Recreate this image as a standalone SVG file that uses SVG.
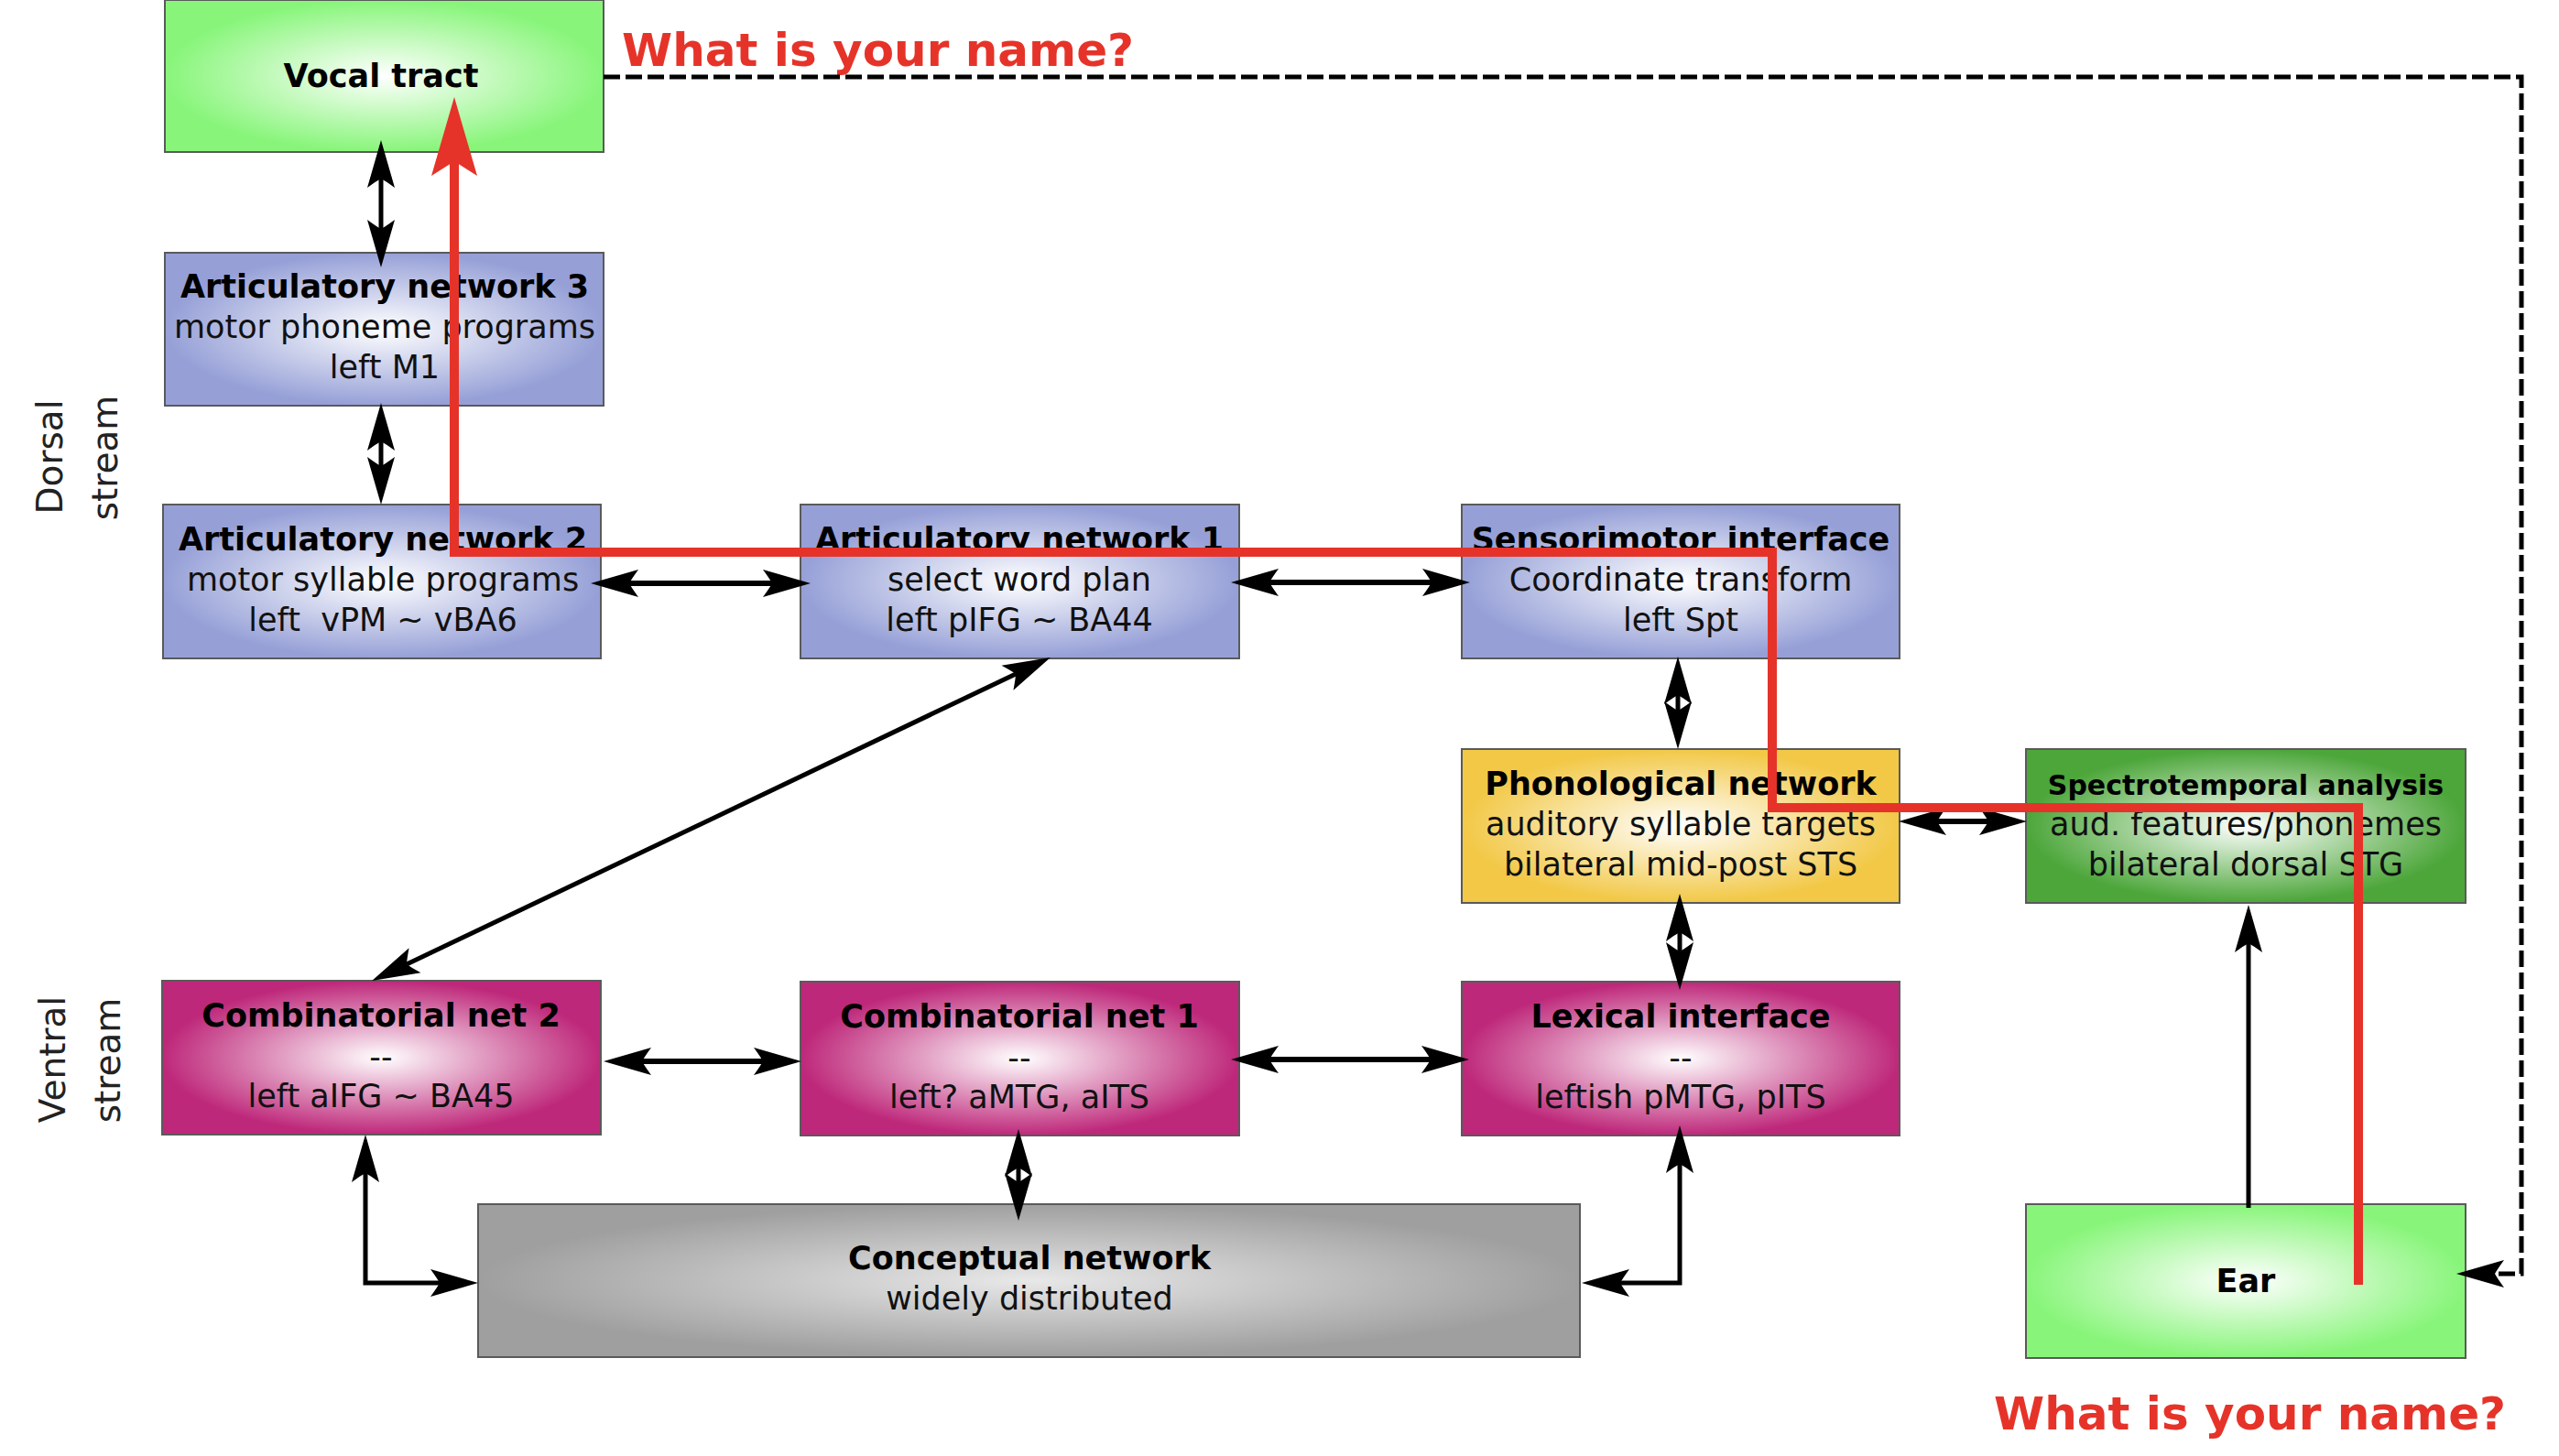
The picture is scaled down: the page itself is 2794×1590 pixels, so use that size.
<svg xmlns="http://www.w3.org/2000/svg" width="2794" height="1590" viewBox="0 0 2794 1590">
<style>
.box{stroke:#5a5a5a;stroke-width:2}
.t{font-family:"DejaVu Sans",sans-serif;font-size:35px;text-anchor:middle;fill:#111}
.b{font-weight:bold;fill:#000}
.side{font-family:"DejaVu Sans",sans-serif;font-size:39px;text-anchor:middle;fill:#222}
.red{font-family:"DejaVu Sans",sans-serif;font-size:50px;font-weight:bold;fill:#e63329}
.c{fill:none;stroke:#000;stroke-width:5}
.h{stroke-width:6}
</style>
<defs>
<radialGradient id="gGreen"><stop offset="0" stop-color="#ffffff"/><stop offset="1" stop-color="#88f57a"/></radialGradient>
<radialGradient id="gBlue"><stop offset="0" stop-color="#ffffff"/><stop offset="1" stop-color="#96a0d7"/></radialGradient>
<radialGradient id="gYellow"><stop offset="0" stop-color="#ffffff"/><stop offset="1" stop-color="#f2c846"/></radialGradient>
<radialGradient id="gDark"><stop offset="0" stop-color="#ffffff"/><stop offset="1" stop-color="#4ca63a"/></radialGradient>
<radialGradient id="gMag"><stop offset="0" stop-color="#ffffff"/><stop offset="1" stop-color="#be287a"/></radialGradient>
<radialGradient id="gGray"><stop offset="0" stop-color="#e8e8e8"/><stop offset="1" stop-color="#a09fa0"/></radialGradient>
<marker id="ah" viewBox="-54 -17 56 34" markerWidth="56" markerHeight="34" refX="-42" refY="0" orient="auto-start-reverse" markerUnits="userSpaceOnUse"><path d="M0,0 L-52,-15 Q-44,-4 -42,0 Q-44,4 -52,15 Z" fill="#000"/></marker>
<marker id="rh" viewBox="-88 -27 90 54" markerWidth="90" markerHeight="54" refX="-70" refY="0" orient="auto" markerUnits="userSpaceOnUse"><path d="M0,0 L-86,-25 Q-74,-6 -70,0 Q-74,6 -86,25 Z" fill="#e63329"/></marker>
</defs>

<g id="vocal-tract"><rect class="box" x="180" y="0" width="479" height="166" fill="url(#gGreen)"/><text class="t b" x="416" y="95">Vocal tract</text></g>
<g id="art3"><rect class="box" x="180" y="276" width="479" height="167" fill="url(#gBlue)"/><text class="t b" x="420" y="325">Articulatory network 3</text><text class="t" x="420" y="369">motor phoneme programs</text><text class="t" x="420" y="413">left M1</text></g>
<g id="art2"><rect class="box" x="178" y="551" width="478" height="168" fill="url(#gBlue)"/><text class="t b" x="418" y="601">Articulatory network 2</text><text class="t" x="418" y="645">motor syllable programs</text><text class="t" x="418" y="689" xml:space="preserve">left  vPM ~ vBA6</text></g>
<g id="art1"><rect class="box" x="874" y="551" width="479" height="168" fill="url(#gBlue)"/><text class="t b" x="1113" y="601">Articulatory network 1</text><text class="t" x="1113" y="645">select word plan</text><text class="t" x="1113" y="689">left pIFG ~ BA44</text></g>
<g id="sensorimotor"><rect class="box" x="1596" y="551" width="478" height="168" fill="url(#gBlue)"/><text class="t b" x="1835" y="601">Sensorimotor interface</text><text class="t" x="1835" y="645">Coordinate transform</text><text class="t" x="1835" y="689">left Spt</text></g>
<g id="phonological"><rect class="box" x="1596" y="818" width="478" height="168" fill="url(#gYellow)"/><text class="t b" x="1835" y="868">Phonological network</text><text class="t" x="1835" y="912">auditory syllable targets</text><text class="t" x="1835" y="956">bilateral mid-post STS</text></g>
<g id="spectrotemporal"><rect class="box" x="2212" y="818" width="480" height="168" fill="url(#gDark)"/><text class="t b" x="2452" y="868" style="font-size:30px">Spectrotemporal analysis</text><text class="t" x="2452" y="912">aud. features/phonemes</text><text class="t" x="2452" y="956">bilateral dorsal STG</text></g>
<g id="comb2"><rect class="box" x="177" y="1071" width="479" height="168" fill="url(#gMag)"/><text class="t b" x="416" y="1121">Combinatorial net 2</text><text class="t" x="416" y="1166">--</text><text class="t" x="416" y="1209">left aIFG ~ BA45</text></g>
<g id="comb1"><rect class="box" x="874" y="1072" width="479" height="168" fill="url(#gMag)"/><text class="t b" x="1113" y="1122">Combinatorial net 1</text><text class="t" x="1113" y="1167">--</text><text class="t" x="1113" y="1210">left? aMTG, aITS</text></g>
<g id="lexical"><rect class="box" x="1596" y="1072" width="478" height="168" fill="url(#gMag)"/><text class="t b" x="1835" y="1122">Lexical interface</text><text class="t" x="1835" y="1167">--</text><text class="t" x="1835" y="1210">leftish pMTG, pITS</text></g>
<g id="conceptual"><rect class="box" x="522" y="1315" width="1203" height="167" fill="url(#gGray)"/><text class="t b" x="1124" y="1386">Conceptual network</text><text class="t" x="1124" y="1430">widely distributed</text></g>
<g id="ear"><rect class="box" x="2212" y="1315" width="480" height="168" fill="url(#gGreen)"/><text class="t b" x="2452" y="1411">Ear</text></g>

<g id="labels">
<text class="side" x="68" y="499" transform="rotate(-90 68 499)">Dorsal</text>
<text class="side" x="128" y="500" transform="rotate(-90 128 500)">stream</text>
<text class="side" x="71" y="1157" transform="rotate(-90 71 1157)">Ventral</text>
<text class="side" x="131" y="1158" transform="rotate(-90 131 1158)">stream</text>
<text class="red" x="679" y="72">What is your name?</text>
<text class="red" x="2177" y="1561">What is your name?</text>
</g>

<g id="connectors">
<path class="c" d="M416,195 V250" marker-start="url(#ah)" marker-end="url(#ah)"/>
<path class="c" d="M416,482 V509" marker-start="url(#ah)" marker-end="url(#ah)"/>
<path class="c h" d="M687,637 H843" marker-start="url(#ah)" marker-end="url(#ah)"/>
<path class="c h" d="M1386,636 H1563" marker-start="url(#ah)" marker-end="url(#ah)"/>
<path class="c" d="M1832,759 V776" marker-start="url(#ah)" marker-end="url(#ah)"/>
<path class="c h" d="M2115,897 H2171" marker-start="url(#ah)" marker-end="url(#ah)"/>
<path class="c" d="M1834,1018 V1039" marker-start="url(#ah)" marker-end="url(#ah)"/>
<path class="c h" d="M701,1159 H833" marker-start="url(#ah)" marker-end="url(#ah)"/>
<path class="c h" d="M1386,1157 H1562" marker-start="url(#ah)" marker-end="url(#ah)"/>
<path class="c" d="M1112,1275 V1291" marker-start="url(#ah)" marker-end="url(#ah)"/>
<path class="c" d="M399,1281 V1401 H480" marker-start="url(#ah)" marker-end="url(#ah)"/>
<path class="c" d="M1834,1271 V1401 H1769" marker-start="url(#ah)" marker-end="url(#ah)"/>
<path class="c" d="M2455,1319 V1030" marker-end="url(#ah)"/>
<path class="c" d="M1109,736 L444,1053" marker-start="url(#ah)" marker-end="url(#ah)"/>
<path class="c" d="M659,84 H2753 V1391 H2724" stroke-dasharray="18 6" marker-end="url(#ah)"/>
<path d="M2575,1403 V882 H1935 V603 H496 V176" fill="none" stroke="#e63329" stroke-width="10" marker-end="url(#rh)"/>
</g>
</svg>
